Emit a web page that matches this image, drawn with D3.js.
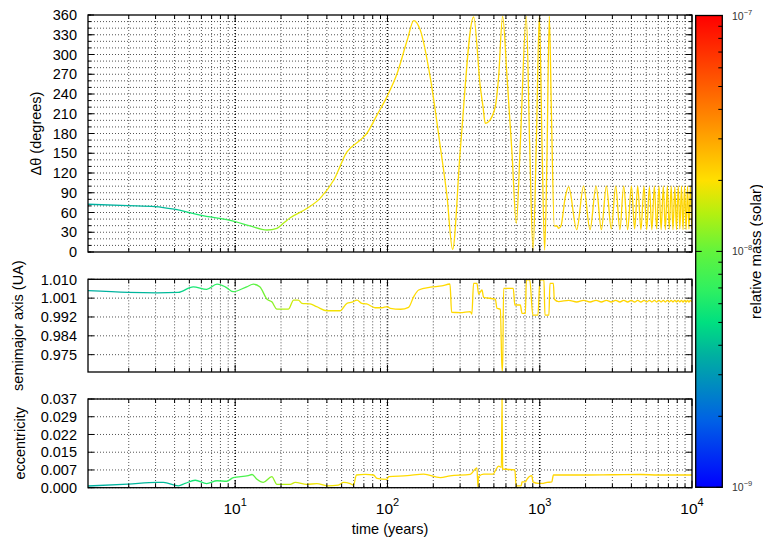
<!DOCTYPE html>
<html>
<head>
<meta charset="utf-8">
<script src="https://cdn.jsdelivr.net/npm/d3@7"></script>
<style>
  body { margin: 0; background: #fff; }
  svg { display: block; }
  text { font-family: "Liberation Sans", Arial, Helvetica, sans-serif; fill: #000; }
</style>
</head>
<body>
<svg id="chart" width="763" height="542"></svg>
<script>
// ---- Δθ (degrees) versus time (years)
const thetaTime = [1.08, 1.98, 2.98, 3.97, 5.89, 10, 12.5, 16.2, 18.8, 20.8, 23, 29.5, 36.1, 44.3, 54.2, 66.3, 73.1, 85.3, 99.3, 115.7, 134.9, 148.8, 164.3, 191.1, 222.3, 246, 267.7, 300.8, 368, 407, 424, 439, 461.7, 511, 537, 570.5, 610, 657.7, 702, 745.6, 816.3, 858.4, 903.6, 950, 994, 1035, 1077, 1116, 1156, 1192, 1247, 1299, 1331, 1380, 1473, 1549, 1750, 1941, 2140, 2344, 2540, 2740, 2950, 3155, 3360, 3560, 3780, 4000, 4200, 4400, 4620, 4840, 5040, 5250, 5450, 5660, 5860, 6070, 6270, 6480, 6680, 6890, 7090, 7300, 7500, 7710, 7910, 8120, 8320, 8530, 8730, 8940, 9140, 9350, 9550, 9760, 9960];
const thetaVal = [72.5, 70.5, 69, 65, 56, 46, 39.5, 33.4, 36, 44, 52, 66, 81.5, 109, 152, 170, 180, 208, 236, 271, 322, 351.5, 337, 265, 160, 85, 4, 155, 357, 251, 221, 195.5, 198, 221, 266, 358, 266, 150, 43.6, 165, 358, 165, 3, 165, 358, 165, 3, 145, 358, 216, 39.5, 39.5, 36, 40, 84, 99, 34, 100, 34, 100, 34, 100, 35, 100, 34, 100, 34, 100, 35, 100, 34, 100, 34, 99, 34, 100, 35, 100, 34, 100, 34, 100, 35, 100, 34, 99, 34, 100, 35, 100, 34, 100, 34, 100, 35, 100, 35];

// ---- semimajor axis (UA) versus time (years)
const axisTime = [1.08, 1.98, 3.06, 4.22, 5.3, 6.5, 7.6, 8.6, 9.7, 11.9, 13.2, 14.5, 16.2, 17.4, 18.8, 22.4, 24.2, 26.0, 27.4, 31.0, 34.3, 40.1, 49.0, 54.2, 58.5, 63.1, 67.8, 73.1, 83.0, 91.9, 99.3, 104.5, 121.9, 137.6, 148.8, 160.4, 191.7, 227.5, 257.4, 263.9, 300.8, 349.5, 358.4, 367.8, 387.1, 397, 417.5, 427.9, 511, 524, 551.5, 565.4, 570.5, 579.4, 670, 686.4, 745.6, 765, 805, 817, 860, 901, 973.3, 1003, 1066, 1082, 1149, 1167, 1229, 1247, 1331, 1549, 1750, 1941, 2140, 2344, 2540, 2740, 2950, 3155, 3360, 3560, 3780, 4000, 4200, 4400, 4620, 4840, 5040, 5250, 5450, 5660, 5860, 6070, 6270, 6480, 6680, 6890, 7090, 7300, 7500, 7710, 7910, 8120, 8320, 8530, 8730, 8940, 9140, 9350, 9550, 9760, 9960];
const axisVal = [1.0047, 1.0039, 1.0037, 1.0039, 1.0065, 1.0053, 1.0077, 1.0065, 1.0042, 1.0065, 1.0077, 1.0065, 1.0007, 0.9995, 0.9961, 0.9961, 1.0003, 1.0003, 0.9988, 0.9985, 0.9972, 0.9953, 0.9953, 0.9988, 0.9993, 1.0003, 0.9988, 0.9985, 0.9967, 0.9967, 0.9972, 0.9964, 0.9960, 0.9969, 1.0019, 1.0050, 1.0063, 1.0069, 1.0078, 0.9946, 0.9944, 0.9949, 0.9938, 1.0081, 1.0081, 1.0031, 1.0050, 1.0016, 1.0007, 0.9965, 0.9960, 0.9672, 0.9672, 1.0058, 1.0058, 0.9980, 0.9980, 0.9941, 0.9941, 1.0097, 1.0097, 0.9933, 0.9933, 1.0097, 1.0097, 0.9933, 0.9933, 1.0081, 1.0081, 1.0007, 0.9996, 1.0002, 0.9994, 1.0002, 0.9994, 1.0002, 0.9994, 1.0002, 0.9994, 1.0002, 0.9994, 1.0002, 0.9994, 1.0002, 0.9994, 1.0002, 0.9994, 1.0002, 0.9994, 1.0002, 0.9994, 1.0002, 0.9994, 1.0002, 0.9994, 1.0002, 0.9994, 1.0002, 0.9994, 1.0002, 0.9994, 1.0002, 0.9994, 1.0002, 0.9994, 1.0002, 0.9994, 1.0002, 0.9994, 1.0002, 0.9994, 1.0002, 0.9994];

// ---- eccentricity versus time (years)
const eccTime = [1.08, 1.98, 3.06, 3.38, 4.24, 4.69, 5.47, 6.5, 7.6, 8.8, 9.73, 12.2, 12.9, 13.9, 15.3, 17.4, 18.8, 23.0, 24.8, 29.5, 34.4, 40.1, 47.6, 51.5, 56.9, 59.8, 62.6, 71.4, 81.0, 85.3, 99.3, 101.8, 134.9, 172.8, 222.3, 257.4, 349.5, 387.1, 393, 397, 427.9, 496, 511, 537, 560, 565.4, 570.5, 686.4, 700, 756, 765, 805, 823.5, 888, 902, 979, 1035, 1116, 1200, 1230, 2000, 3000, 4600, 6000, 10000];
const eccVal = [0.0007, 0.0015, 0.0022, 0.0022, 0.0008, 0.0018, 0.0031, 0.0017, 0.0029, 0.0027, 0.0042, 0.0050, 0.0055, 0.0035, 0.0022, 0.0046, 0.0014, 0.0014, 0.0022, 0.0014, 0.0017, 0.0008, 0.0011, 0.0022, 0.0017, 0.0011, 0.0053, 0.0056, 0.0053, 0.0039, 0.0035, 0.0046, 0.0050, 0.0057, 0.0042, 0.0049, 0.0056, 0.0083, 0.0000, 0.0046, 0.0057, 0.0057, 0.0071, 0.0090, 0.0085, 0.0370, 0.0078, 0.0074, 0.0008, 0.0008, 0.0024, 0.0024, 0.0035, 0.0050, 0.0024, 0.0018, 0.0018, 0.0022, 0.0024, 0.0053, 0.0053, 0.0054, 0.0055, 0.0053, 0.0053];

// ---- relative mass (solar) of the body versus time, used to colour the curves
const massTime = [1.08, 4, 5, 8, 12, 17, 22, 30, 100, 1000, 10000];
const massVal = [3.6e-9, 3.9e-9, 5.5e-9, 7e-9, 8.5e-9, 1.15e-8, 1.5e-8, 1.85e-8, 2.05e-8, 2.15e-8, 2.15e-8];

// ---- axis ticks and labels
const xMajorTicks = [10, 100, 1000, 10000];
const xMajorExp = ["1", "2", "3", "4"];
const thetaTicks = [0, 30, 60, 90, 120, 150, 180, 210, 240, 270, 300, 330, 360];
const axisTicks = [1.010, 1.0012, 0.9924, 0.9836, 0.9748];
const axisTickLabels = ["1.010", "1.001", "0.992", "0.984", "0.975"];
const eccTicks = [0, 0.0074, 0.0148, 0.0222, 0.0296, 0.037];
const eccTickLabels = ["0.000", "0.007", "0.015", "0.022", "0.029", "0.037"];
const massTicks = [1e-9, 1e-8, 1e-7];
const massExp = ["\u22129", "\u22128", "\u22127"];

// colour map of the mass scale (0 = 1e-9, 1 = 1e-7)
const cmapPos = [0.00, 0.14, 0.28, 0.35, 0.42, 0.50, 0.58, 0.65, 0.78, 1.00];
const cmapCol = ["#0000ff", "#0060e6", "#00b0a0", "#00e080", "#30f060", "#62f43c", "#b4f010", "#ffe000", "#ff8a00", "#ff0000"];

const svg = d3.select("#chart");
const defs = svg.append("defs");
const L = 88, R = 692;
const x = d3.scaleLog().domain([1.08, 1e4]).range([L, R]);

const massFrac = d3.scaleLog().domain([1e-9, 1e-7]).range([0, 1]);
const cmap = d3.scaleLinear().domain(cmapPos).range(cmapCol).interpolate(d3.interpolateRgb).clamp(true);

// stroke gradient along time: the curve colour follows the mass at each time
const lineGrad = defs.append("linearGradient").attr("id", "timeGrad")
  .attr("gradientUnits", "userSpaceOnUse")
  .attr("x1", L).attr("y1", 0).attr("x2", R).attr("y2", 0);
lineGrad.selectAll("stop").data(massTime).join("stop")
  .attr("offset", d => (x(d) - L) / (R - L))
  .attr("stop-color", (d, i) => cmap(massFrac(massVal[i])));

const FS = 14.5;

const panels = [
  { top: 15, bottom: 252, domain: [0, 360], times: thetaTime, vals: thetaVal,
    grid: d3.range(10, 360, 10), ticks: thetaTicks, labels: thetaTicks.map(String),
    minor: d3.range(0, 361, 10), title: "\u0394\u03b8 (degrees)", titleX: 35.5 },
  { top: 279.3, bottom: 372, domain: [0.9667, 1.010], times: axisTime, vals: axisVal,
    grid: axisTicks, ticks: axisTicks, labels: axisTickLabels, minor: [],
    title: "semimajor axis (UA)", titleX: 18 },
  { top: 399, bottom: 487.7, domain: [0, 0.037], times: eccTime, vals: eccVal,
    grid: eccTicks, ticks: eccTicks, labels: eccTickLabels, minor: [],
    title: "eccentricity", titleX: 20 }
];

const xAll = x.ticks().filter(t => t >= 1.08 && t <= 1e4);
const isMajor = t => Math.abs(Math.log10(t) - Math.round(Math.log10(t))) < 1e-9;

panels.forEach((p, pi) => {
  const y = d3.scaleLinear().domain(p.domain).range([p.bottom, p.top]);
  const g = svg.append("g");
  const clipId = "clip" + pi;
  defs.append("clipPath").attr("id", clipId).append("rect")
    .attr("x", L).attr("y", p.top - 1).attr("width", R - L).attr("height", p.bottom - p.top + 2);

  // dotted grid
  const grid = g.append("g").attr("stroke", "#111").attr("fill", "none")
    .attr("stroke-dasharray", "1,2");
  grid.selectAll("line.h").data(p.grid).join("line")
    .attr("x1", L).attr("x2", R).attr("y1", d => y(d)).attr("y2", d => y(d))
    .attr("stroke-width", 0.9).attr("stroke-opacity", 0.8);
  grid.selectAll("line.v").data(xAll.filter(t => t < 1e4)).join("line")
    .attr("x1", d => x(d)).attr("x2", d => x(d)).attr("y1", p.top).attr("y2", p.bottom)
    .attr("stroke-width", d => isMajor(d) ? 1.6 : 0.9)
    .attr("stroke-opacity", d => isMajor(d) ? 1 : 0.8);

  // curve
  const line = d3.line().x(d => x(d[0])).y(d => y(d[1])).curve(d3.curveMonotoneX);
  g.append("path").attr("clip-path", `url(#${clipId})`)
    .datum(d3.zip(p.times, p.vals))
    .attr("d", line).attr("fill", "none")
    .attr("stroke", "url(#timeGrad)").attr("stroke-width", 1.3)
    .attr("stroke-linejoin", "round");

  // ticks (inward, mirrored)
  const tk = g.append("g").attr("stroke", "#000").attr("stroke-width", 1);
  p.ticks.forEach(v => {
    tk.append("line").attr("x1", L).attr("x2", L + 6).attr("y1", y(v)).attr("y2", y(v));
    tk.append("line").attr("x1", R).attr("x2", R - 6).attr("y1", y(v)).attr("y2", y(v));
  });
  p.minor.forEach(v => {
    tk.append("line").attr("x1", L).attr("x2", L + 3).attr("y1", y(v)).attr("y2", y(v));
    tk.append("line").attr("x1", R).attr("x2", R - 3).attr("y1", y(v)).attr("y2", y(v));
  });
  xAll.forEach(t => {
    const len = isMajor(t) ? 7 : 4;
    tk.append("line").attr("x1", x(t)).attr("x2", x(t)).attr("y1", p.bottom).attr("y2", p.bottom - len);
    tk.append("line").attr("x1", x(t)).attr("x2", x(t)).attr("y1", p.top).attr("y2", p.top + len);
  });

  // frame
  g.append("rect").attr("x", L).attr("y", p.top).attr("width", R - L).attr("height", p.bottom - p.top)
    .attr("fill", "none").attr("stroke", "#000").attr("stroke-width", 1.3);

  // tick labels
  g.append("g").selectAll("text").data(p.ticks).join("text")
    .attr("x", 77).attr("y", d => y(d)).attr("dy", "0.36em")
    .attr("text-anchor", "end").attr("font-size", FS)
    .text((d, i) => p.labels[i]);

  // title
  g.append("text")
    .attr("transform", `translate(${p.titleX},${(p.top + p.bottom) / 2}) rotate(-90)`)
    .attr("dy", "0.36em").attr("text-anchor", "middle").attr("font-size", FS)
    .text(p.title);
});

// x tick labels (bottom panel only)
const xl = svg.append("g");
xMajorTicks.forEach((t, i) => {
  const tx = xl.append("text").attr("x", x(t)).attr("y", 514)
    .attr("text-anchor", "middle").attr("font-size", 15.5);
  tx.append("tspan").text("10");
  tx.append("tspan").attr("dy", -8).attr("font-size", 11).text(xMajorExp[i]);
});
svg.append("text").attr("x", (L + R) / 2).attr("y", 534).attr("text-anchor", "middle")
  .attr("font-size", FS).text("time (years)");

// colour bar
const cbX = 695.7, cbW = 26.6, cbTop = 15.5, cbBot = 487.3;
const grad = defs.append("linearGradient").attr("id", "massGrad")
  .attr("x1", 0).attr("y1", 1).attr("x2", 0).attr("y2", 0);
grad.selectAll("stop").data(cmapPos).join("stop")
  .attr("offset", d => d).attr("stop-color", (d, i) => cmapCol[i]);
svg.append("rect").attr("x", cbX).attr("y", cbTop).attr("width", cbW).attr("height", cbBot - cbTop)
  .attr("fill", "url(#massGrad)");
const ym = d3.scaleLog().domain([1e-9, 1e-7]).range([cbBot, cbTop]);
const cbt = svg.append("g").attr("stroke", "#000").attr("stroke-width", 1);
ym.ticks().forEach(m => {
  const major = massTicks.some(v => Math.abs(v - m) / v < 1e-6);
  const len = major ? 6 : 4;
  cbt.append("line").attr("x1", cbX + cbW).attr("x2", cbX + cbW - len).attr("y1", ym(m)).attr("y2", ym(m));
  if (major) cbt.append("line").attr("x1", cbX).attr("x2", cbX + len).attr("y1", ym(m)).attr("y2", ym(m));
});
svg.append("rect").attr("x", cbX).attr("y", cbTop).attr("width", cbW).attr("height", cbBot - cbTop)
  .attr("fill", "none").attr("stroke", "#000").attr("stroke-width", 1.3);
massTicks.forEach((m, i) => {
  const tx = svg.append("text").attr("x", 732).attr("y", ym(m) + 4)
    .attr("font-size", 10.5).style("fill", "#333");
  tx.append("tspan").text("10");
  tx.append("tspan").attr("dy", -5).attr("font-size", 7.5).text(massExp[i]);
});
svg.append("text")
  .attr("transform", `translate(756,${(cbTop + cbBot) / 2}) rotate(-90)`)
  .attr("dy", "0.36em").attr("text-anchor", "middle").attr("font-size", 15)
  .text("relative mass (solar)");
</script>
</body>
</html>
